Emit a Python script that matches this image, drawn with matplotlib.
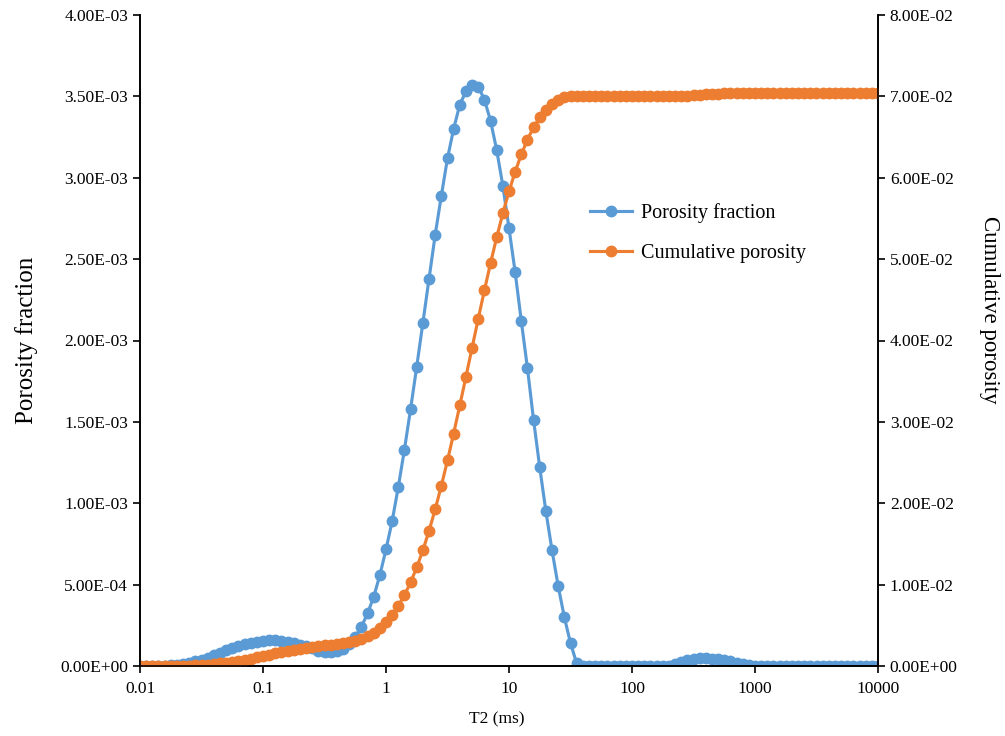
import matplotlib.pyplot as plt
import numpy as np
from matplotlib.ticker import FixedLocator, FuncFormatter, NullLocator

# T2 bins, 20 per decade from 0.01 to 10000 ms
t2 = np.logspace(-2, 4, 121)

# porosity fraction, units of 1e-3
porosity_e3 = [
    0.0, 0.0, 0.0, 0.001, 0.002, 0.004, 0.007, 0.012, 0.019, 0.028,
    0.039, 0.052, 0.066, 0.081, 0.096, 0.110, 0.123, 0.134, 0.143, 0.150,
    0.155, 0.157, 0.157, 0.154, 0.149, 0.141, 0.131, 0.120, 0.108, 0.095,
    0.087, 0.085, 0.090, 0.105, 0.135, 0.180, 0.241, 0.323, 0.425, 0.558,
    0.716, 0.890, 1.100, 1.330, 1.580, 1.840, 2.110, 2.380, 2.650, 2.890,
    3.120, 3.300, 3.450, 3.530, 3.570, 3.560, 3.480, 3.350, 3.170, 2.950,
    2.690, 2.420, 2.120, 1.830, 1.510, 1.220, 0.950, 0.710, 0.490, 0.300,
    0.140, 0.017, 0.0, 0.0, 0.0, 0.0, 0.0, 0.0, 0.0, 0.0,
    0.0, 0.0, 0.0, 0.0, 0.0, 0.0, 0.002, 0.012, 0.025, 0.036,
    0.043, 0.047, 0.047, 0.045, 0.041, 0.035, 0.028, 0.020, 0.012, 0.005,
    0.001, 0.0, 0.0, 0.0, 0.0, 0.0, 0.0, 0.0, 0.0, 0.0,
    0.0, 0.0, 0.0, 0.0, 0.0, 0.0, 0.0, 0.0, 0.0, 0.0,
    0.0,
]

# cumulative porosity, units of 1e-2
cumulative_e2 = [
    0.000, 0.000, 0.000, 0.000, 0.000, 0.001, 0.001, 0.003, 0.004, 0.007,
    0.011, 0.016, 0.023, 0.031, 0.041, 0.052, 0.064, 0.077, 0.092, 0.107,
    0.122, 0.138, 0.154, 0.169, 0.184, 0.198, 0.211, 0.223, 0.234, 0.243,
    0.252, 0.261, 0.270, 0.280, 0.294, 0.312, 0.336, 0.368, 0.411, 0.466,
    0.538, 0.627, 0.737, 0.870, 1.028, 1.212, 1.423, 1.661, 1.926, 2.215,
    2.527, 2.857, 3.202, 3.555, 3.912, 4.268, 4.616, 4.951, 5.268, 5.563,
    5.832, 6.074, 6.286, 6.469, 6.620, 6.742, 6.837, 6.908, 6.957, 6.987,
    7.001, 7.003, 7.003, 7.003, 7.003, 7.003, 7.003, 7.003, 7.003, 7.003,
    7.003, 7.003, 7.003, 7.003, 7.003, 7.003, 7.003, 7.004, 7.007, 7.010,
    7.015, 7.019, 7.024, 7.029, 7.033, 7.036, 7.039, 7.041, 7.042, 7.043,
    7.043, 7.043, 7.043, 7.043, 7.043, 7.043, 7.043, 7.043, 7.043, 7.043,
    7.043, 7.043, 7.043, 7.043, 7.043, 7.043, 7.043, 7.043, 7.043, 7.043,
    7.043,
]

porosity = np.array(porosity_e3) * 1e-3
cumulative = np.array(cumulative_e2) * 1e-2

x_ticks = [0.01, 0.1, 1, 10, 100, 1000, 10000]
x_labels = ["0.01", "0.1", "1", "10", "100", "1000", "10000"]

BLUE = '#5B9BD5'
ORANGE = '#ED7D31'

plt.rcParams['font.family'] = ['Liberation Serif', 'DejaVu Serif']
plt.rcParams['font.size'] = 12.5

fig = plt.figure(figsize=(10.05, 7.36), dpi=100)
ax = fig.add_axes([140 / 1005, 1 - 666 / 736, 738 / 1005, 651 / 736])
ax2 = ax.twinx()

l1, = ax.plot(t2, porosity, color=BLUE, lw=2.25, marker='o', ms=7.5,
              label='Porosity fraction')
l2, = ax2.plot(t2, cumulative, color=ORANGE, lw=2.25, marker='o', ms=7.5,
               label='Cumulative porosity')

ax.set_xscale('log')
ax.set_xlim(0.01, 10000)
ax.xaxis.set_major_locator(FixedLocator(x_ticks))
ax.xaxis.set_minor_locator(NullLocator())
ax.set_xticklabels(x_labels)

ax.set_ylim(0, 4e-3)
ax.set_yticks(np.arange(0, 4.01e-3, 5e-4))
ax2.set_ylim(0, 8e-2)
ax2.set_yticks(np.arange(0, 8.01e-2, 1e-2))
sci = FuncFormatter(lambda v, p: f"{v:.2E}")
ax.yaxis.set_major_formatter(sci)
ax2.yaxis.set_major_formatter(sci)

for a in (ax, ax2):
    a.spines['top'].set_visible(False)
    for s in ('left', 'right', 'bottom'):
        a.spines[s].set_linewidth(1.2)
    a.tick_params(direction='out', length=5, width=1.2, labelsize=12.5)
ax.tick_params(axis='x', pad=5.5)

ax.set_xlabel("T2 (ms)", fontsize=12.5)
ax.xaxis.set_label_coords(0.484, -0.07)
ax.set_ylabel("Porosity fraction", fontsize=18, labelpad=16)
ax2.set_ylabel("Cumulative porosity", fontsize=16.5, rotation=270,
               va='center', ha='center')
ax2.yaxis.set_label_coords((990 - 140) / 738, (666 - 310) / 651)

ax2.legend(handles=[l1, l2], loc='center left', bbox_to_anchor=(0.61, 0.665),
           frameon=False, fontsize=14.5, handlelength=2.1, labelspacing=1.05,
           handletextpad=0.4, borderpad=0, borderaxespad=0)

fig.savefig("out.png", dpi=100)
